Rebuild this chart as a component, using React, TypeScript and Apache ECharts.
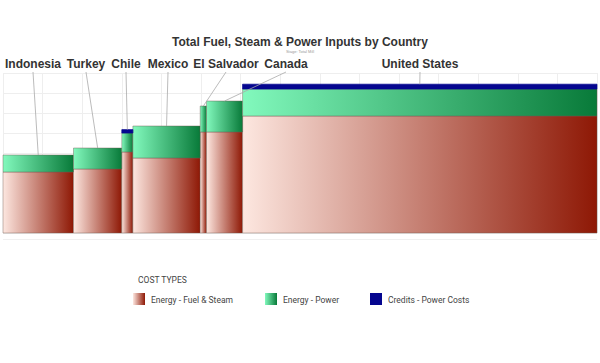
import React, { useEffect, useRef } from "react";
import * as echarts from "echarts";

const countries = ["Indonesia", "Turkey", "Chile", "Mexico", "El Salvador", "Canada", "United States"];
const widths = [1.78, 1.22, 0.28, 1.7, 0.16, 0.91, 8.95];
const fuelSteam = [3.05, 3.2, 4.05, 3.75, 5.05, 5.05, 5.85];
const power = [0.85, 1.05, 0.95, 1.6, 1.3, 1.55, 1.35];
const credits = [0, 0, 0.17, 0, 0, 0, 0.24];
const costTypes = ["Energy - Fuel & Steam", "Energy - Power", "Credits - Power Costs"];

// layout only: label centres in pixels
const labelX = [33, 86, 126, 168, 226, 286, 420];

const grad = (a: string, b: string) =>
  new echarts.graphic.LinearGradient(0, 0, 1, 0, [
    { offset: 0, color: a },
    { offset: 1, color: b },
  ]);

const fills = [
  () => grad("#fde7e0", "#8e1805"),
  () => grad("#82f9bd", "#087a39"),
  () => "#05068f",
];

export default function App() {
  const ref = useRef<HTMLDivElement>(null);
  useEffect(() => {
    document.body.style.margin = "0";
    const chart = echarts.init(ref.current!, null, { renderer: "svg" });
    const starts: number[] = [];
    let acc = 0;
    widths.forEach((w) => {
      starts.push(acc);
      acc += w;
    });
    const layers = [fuelSteam, power, credits];
    const series: any[] = layers.map((vals, li) => ({
      type: "custom",
      name: costTypes[li],
      encode: { x: [0, 1], y: [2, 3] },
      data: vals.map((v, i) => {
        let base = 0;
        for (let k = 0; k < li; k++) base += layers[k][i];
        return [starts[i], starts[i] + widths[i], base, base + v];
      }),
      renderItem: (params: any, api: any) => {
        const x0 = api.value(0), x1 = api.value(1), b = api.value(2), t = api.value(3);
        if (t - b <= 0) return null;
        const p0 = api.coord([x0, t]);
        const p1 = api.coord([x1, b]);
        return {
          type: "rect",
          shape: { x: p0[0], y: p0[1], width: p1[0] - p0[0], height: p1[1] - p0[1] },
          style: { fill: fills[li](), stroke: li === 2 ? "#05068f" : "rgba(110,90,80,0.6)", lineWidth: 0.7 },
        };
      },
    }));
    series.push({
      type: "custom",
      name: "labels",
      encode: { x: 0, y: 1 },
      data: countries.map((c, i) => [starts[i] + widths[i] / 2, fuelSteam[i] + power[i] + credits[i], i]),
      renderItem: (params: any, api: any) => {
        const i = api.value(2);
        const p = api.coord([api.value(0), api.value(1)]);
        return {
          type: "group",
          children: [
            {
              type: "line",
              shape: { x1: labelX[i], y1: 72, x2: p[0], y2: p[1] },
              style: { stroke: "#aaaaaa", lineWidth: 0.8 },
            },
            {
              type: "text",
              x: labelX[i],
              y: 64,
              style: {
                text: countries[i],
                fill: "#333333",
                font: "bold 12px 'Liberation Sans', Arial, sans-serif",
                align: "center",
                verticalAlign: "middle",
                backgroundColor: "#ffffff",
                padding: [0, 1],
              },
            },
          ],
        };
      },
    });

    const legendItems: any[] = [];
    const lx = [133, 265, 370];
    const sw = [grad("#fde7e0", "#8e1805"), grad("#82f9bd", "#087a39"), "#05068f"];
    legendItems.push({
      type: "line",
      shape: { x1: 3, y1: 239.5, x2: 597, y2: 239.5 },
      style: { stroke: "#f0f0f0", lineWidth: 1 },
    });
    costTypes.forEach((t, i) => {
      legendItems.push({
        type: "rect",
        left: lx[i],
        top: 293,
        shape: { width: 12, height: 12 },
        style: { fill: sw[i] },
      });
      legendItems.push({
        type: "text",
        left: lx[i] + 18,
        top: 295,
        style: { text: t, fill: "#444444", font: "8.5px Roboto, sans-serif" },
      });
    });
    legendItems.push({
      type: "text",
      left: 138,
      top: 275,
      style: { text: "COST TYPES", fill: "#444444", font: "8.5px Roboto, sans-serif" },
    });

    chart.setOption({
      animation: false,
      backgroundColor: "#ffffff",
      title: {
        text: "Total Fuel, Steam & Power Inputs by Country",
        subtext: "Stage: Total Mill",
        left: "center",
        top: 31,
        itemGap: 1,
        textStyle: { fontFamily: "'Liberation Sans', Arial, sans-serif", fontWeight: "bold", fontSize: 12, color: "#333333" },
        subtextStyle: { fontSize: 4, color: "#999999" },
      },
      grid: { left: 3, right: 3, top: 73, height: 160 },
      xAxis: {
        type: "value",
        min: 0,
        max: 15,
        interval: 1,
        axisLabel: { show: false },
        axisLine: { show: false },
        axisTick: { show: false },
        splitLine: { show: true, lineStyle: { color: "#eeeeee", width: 1 } },
      },
      yAxis: {
        type: "value",
        min: 0,
        max: 8,
        interval: 1,
        axisLabel: { show: false },
        axisLine: { show: false },
        axisTick: { show: false },
        splitLine: { show: true, lineStyle: { color: "#eeeeee", width: 1 } },
      },
      graphic: legendItems,
      series,
    });
    return () => chart.dispose();
  }, []);
  return <div ref={ref} style={{ width: 600, height: 363 }} />;
}
